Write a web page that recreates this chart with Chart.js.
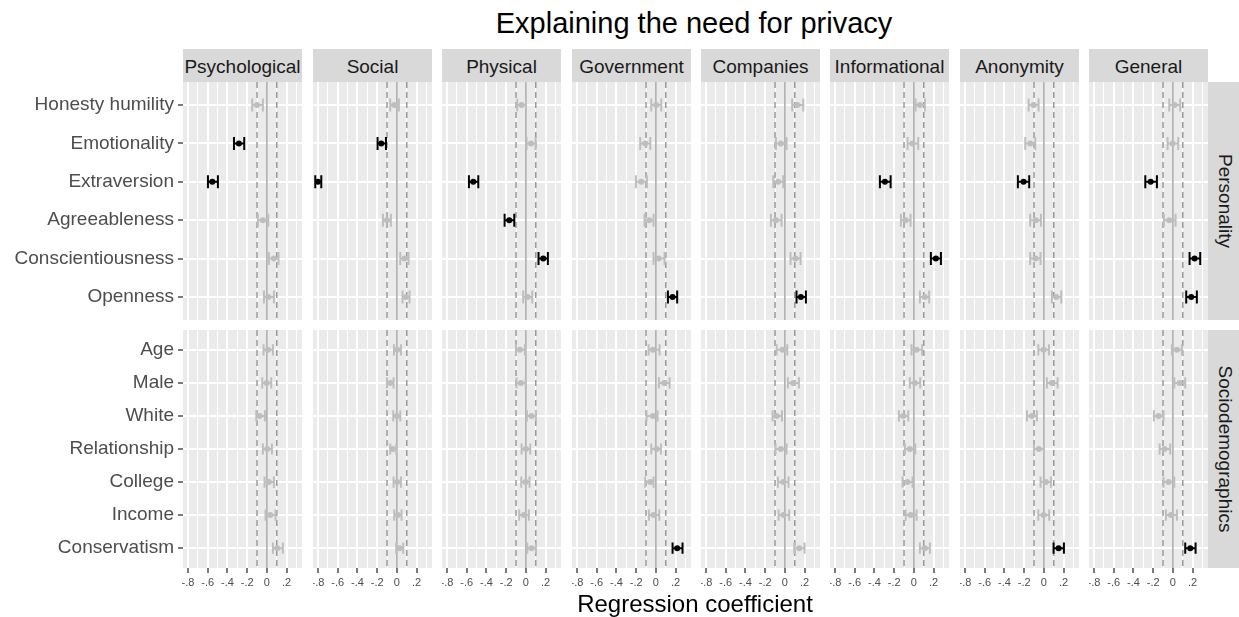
<!DOCTYPE html>
<html>
<head>
<meta charset="utf-8">
<script src="https://cdn.jsdelivr.net/npm/chart.js@4.4.0/dist/chart.umd.min.js"></script>
<style>
body{margin:0;background:#fff;font-family:"Liberation Sans",Arial,sans-serif;}
#wrap{position:relative;width:1239px;height:617px;overflow:hidden;}
canvas{position:absolute;}
.txt{position:absolute;white-space:nowrap;line-height:1;transform:translate(-50%,-50%);}
.strip{position:absolute;background:#d9d9d9;}
</style>
</head>
<body>
<div id="wrap"></div>
<script>
const facets = ['Psychological','Social','Physical','Government','Companies','Informational','Anonymity','General'];
const groups = ['Personality','Sociodemographics'];
const personalityVars = ['Honesty humility','Emotionality','Extraversion','Agreeableness','Conscientiousness','Openness'];
const socioVars = ['Age','Male','White','Relationship','College','Income','Conservatism'];

// one row per facet, one value per variable
const personalityEst = [
  [-0.101,-0.284,-0.554,-0.041, 0.071, 0.014],
  [-0.027,-0.159,-0.801,-0.101, 0.078, 0.091],
  [-0.044, 0.051,-0.534,-0.169, 0.176, 0.017],
  [ 0.003,-0.108,-0.149,-0.068, 0.027, 0.169],
  [ 0.125,-0.041,-0.068,-0.091, 0.108, 0.162],
  [ 0.061,-0.014,-0.294,-0.084, 0.223, 0.111],
  [-0.105,-0.139,-0.206,-0.081,-0.084, 0.125],
  [ 0.017,-0.003,-0.226,-0.037, 0.220, 0.186]
];
const personalityLow = [
  [-0.149,-0.334,-0.598,-0.091, 0.020,-0.030],
  [-0.068,-0.196,-0.828,-0.142, 0.034, 0.057],
  [-0.088, 0.007,-0.578,-0.216, 0.128,-0.027],
  [-0.047,-0.159,-0.203,-0.115,-0.024, 0.122],
  [ 0.074,-0.091,-0.118,-0.142, 0.057, 0.118],
  [ 0.017,-0.064,-0.345,-0.132, 0.172, 0.061],
  [-0.155,-0.189,-0.264,-0.139,-0.139, 0.081],
  [-0.037,-0.054,-0.280,-0.091, 0.169, 0.135]
];
const personalityHigh = [
  [-0.041,-0.230,-0.497, 0.014, 0.118, 0.071],
  [ 0.020,-0.111,-0.767,-0.061, 0.118, 0.128],
  [ 0.000, 0.098,-0.483,-0.118, 0.223, 0.064],
  [ 0.054,-0.057,-0.091,-0.024, 0.088, 0.216],
  [ 0.186, 0.017,-0.017,-0.034, 0.159, 0.213],
  [ 0.111, 0.044,-0.236,-0.034, 0.274, 0.155],
  [-0.054,-0.088,-0.149,-0.030,-0.034, 0.176],
  [ 0.074, 0.054,-0.162, 0.027, 0.277, 0.243]
];
const personalitySig = [
  [0,1,1,0,0,0],
  [0,1,1,0,0,0],
  [0,0,1,1,1,0],
  [0,0,0,0,0,1],
  [0,0,0,0,0,1],
  [0,0,1,0,1,0],
  [0,0,1,0,0,0],
  [0,0,1,0,1,1]
];

const socioEst = [
  [ 0.010,-0.003,-0.074, 0.003, 0.020, 0.034, 0.105],
  [ 0.003,-0.068, 0.000,-0.041, 0.003, 0.010, 0.027],
  [-0.061,-0.051, 0.057, 0.000,-0.003,-0.020, 0.057],
  [-0.030, 0.084,-0.030, 0.007,-0.057,-0.024, 0.216],
  [-0.024, 0.084,-0.084,-0.041,-0.017,-0.014, 0.145],
  [ 0.027, 0.010,-0.108,-0.041,-0.064,-0.034, 0.111],
  [-0.003, 0.081,-0.122,-0.051, 0.020,-0.003, 0.149],
  [ 0.041, 0.068,-0.145,-0.084,-0.044,-0.020, 0.176]
];
const socioLow = [
  [-0.034,-0.047,-0.108,-0.041,-0.024,-0.014, 0.061],
  [-0.030,-0.101,-0.037,-0.068,-0.034,-0.027,-0.007],
  [-0.101,-0.095, 0.010,-0.044,-0.047,-0.068, 0.014],
  [-0.074, 0.030,-0.095,-0.047,-0.108,-0.071, 0.169],
  [-0.084, 0.030,-0.125,-0.095,-0.071,-0.064, 0.095],
  [-0.024,-0.041,-0.152,-0.091,-0.115,-0.084, 0.061],
  [-0.057, 0.030,-0.172,-0.101,-0.034,-0.057, 0.098],
  [-0.010, 0.014,-0.193,-0.135,-0.095,-0.071, 0.125]
];
const socioHigh = [
  [ 0.061, 0.044,-0.020, 0.051, 0.071, 0.088, 0.162],
  [ 0.041,-0.034, 0.034,-0.007, 0.041, 0.047, 0.064],
  [-0.010,-0.003, 0.101, 0.044, 0.037, 0.030, 0.101],
  [ 0.037, 0.139, 0.017, 0.051,-0.024, 0.034, 0.270],
  [ 0.024, 0.142,-0.030, 0.017, 0.037, 0.044, 0.199],
  [ 0.084, 0.064,-0.057, 0.014,-0.014, 0.027, 0.162],
  [ 0.051, 0.139,-0.071, 0.000, 0.071, 0.054, 0.203],
  [ 0.091, 0.125,-0.095,-0.027, 0.014, 0.041, 0.230]
];
const socioSig = [
  [0,0,0,0,0,0,0],
  [0,0,0,0,0,0,0],
  [0,0,0,0,0,0,0],
  [0,0,0,0,0,0,1],
  [0,0,0,0,0,0,0],
  [0,0,0,0,0,0,0],
  [0,0,0,0,0,0,1],
  [0,0,0,0,0,0,1]
];

const xBreaks = [-0.8,-0.6,-0.4,-0.2,0,0.2];
const xBreakLabels = ['-.8','-.6','-.4','-.2','0','.2'];
const xMinorBreaks = [-0.7,-0.5,-0.3,-0.1,0.1,0.3];
const refSolid = [0];
const refDashed = [-0.1,0.1];
const xMin = -0.851, xMax = 0.356;

// layout (px)
const panelX0 = 183.3, panelStep = 129.4, panelW = 119;
const rowTop = [82, 330], rowH = 238;
const stripTop = 49, stripH = 33;
const axisBottom = 40;

Chart.defaults.font.family = '"Liberation Sans", Arial, sans-serif';

const wrap = document.getElementById('wrap');

function isMajor(v){ return xBreaks.some(b => Math.abs(b - v) < 1e-9); }

const panelDecor = {
  id: 'panelDecor',
  beforeDraw(chart){
    const {ctx, chartArea: a} = chart;
    ctx.save();
    ctx.fillStyle = '#ebebeb';
    ctx.fillRect(a.left, a.top, a.right - a.left, a.bottom - a.top);
    ctx.restore();
  },
  beforeDatasetsDraw(chart){
    const {ctx, chartArea: a, scales: {x, y}} = chart;
    const ds = chart.data.datasets[0];
    ctx.save();
    ctx.beginPath();
    ctx.rect(a.left, a.top, a.right - a.left, a.bottom - a.top);
    ctx.clip();
    // reference lines
    ctx.lineWidth = 1.5;
    ctx.strokeStyle = '#a6a6a6';
    refSolid.forEach(v => {
      const px = x.getPixelForValue(v);
      ctx.beginPath(); ctx.moveTo(px, a.top); ctx.lineTo(px, a.bottom); ctx.stroke();
    });
    ctx.strokeStyle = '#9a9a9a';
    ctx.setLineDash([6, 4]);
    refDashed.forEach(v => {
      const px = x.getPixelForValue(v);
      ctx.beginPath(); ctx.moveTo(px, a.top); ctx.lineTo(px, a.bottom); ctx.stroke();
    });
    ctx.setLineDash([]);
    // error bars
    const cap = 0.17 * Math.abs(y.getPixelForValue(2) - y.getPixelForValue(1));
    ctx.lineWidth = 2;
    ds.low.forEach((lo, i) => {
      const py = y.getPixelForValue(i + 1);
      const x1 = x.getPixelForValue(lo), x2 = x.getPixelForValue(ds.high[i]);
      ctx.strokeStyle = ds.sig[i] ? '#000' : '#bebebe';
      ctx.beginPath();
      ctx.moveTo(x1, py); ctx.lineTo(x2, py);
      ctx.moveTo(x1, py - cap); ctx.lineTo(x1, py + cap);
      ctx.moveTo(x2, py - cap); ctx.lineTo(x2, py + cap);
      ctx.stroke();
    });
    ctx.restore();
  }
};

function makePanel(col, row){
  const vars = row === 0 ? personalityVars : socioVars;
  const est = (row === 0 ? personalityEst : socioEst)[col];
  const low = (row === 0 ? personalityLow : socioLow)[col];
  const high = (row === 0 ? personalityHigh : socioHigh)[col];
  const sig = (row === 0 ? personalitySig : socioSig)[col];

  const left = Math.round(panelX0 + col * panelStep);
  const padL = col === 0 ? left : 0;
  const padB = row === 1 ? axisBottom : 0;

  const cv = document.createElement('canvas');
  cv.width = panelW + padL;
  cv.height = rowH + padB;
  cv.style.left = (left - padL) + 'px';
  cv.style.top = rowTop[row] + 'px';
  wrap.appendChild(cv);

  new Chart(cv, {
    type: 'scatter',
    data: {datasets: [{
      data: est.map((v, i) => ({x: v, y: i + 1})),
      low: low, high: high, sig: sig,
      pointRadius: 3,
      pointBorderWidth: 0,
      pointBackgroundColor: sig.map(s => s ? '#000' : '#bebebe')
    }]},
    options: {
      responsive: false,
      animation: false,
      events: [],
      devicePixelRatio: 1,
      layout: {padding: 0, autoPadding: false},
      plugins: {legend: {display: false}, tooltip: {enabled: false}},
      scales: {
        x: {
          type: 'linear', min: xMin, max: xMax, position: 'bottom',
          afterBuildTicks: s => { s.ticks = [...xBreaks, ...xMinorBreaks].sort((a, b) => a - b).map(v => ({value: v})); },
          afterFit: s => { s.height = padB; s.paddingLeft = 0; s.paddingRight = 0; },
          border: {display: false},
          grid: {
            color: '#fff',
            lineWidth: c => (c.tick && isMajor(c.tick.value)) ? 2 : 1,
            drawTicks: row === 1,
            tickLength: 5,
            tickWidth: 1.3,
            tickColor: c => (c.tick && isMajor(c.tick.value)) ? '#333' : 'rgba(0,0,0,0)'
          },
          ticks: {
            display: row === 1, autoSkip: false, maxRotation: 0, padding: 3,
            color: '#4d4d4d', font: {size: 11},
            callback: v => { const k = xBreaks.findIndex(b => Math.abs(b - v) < 1e-9); return k < 0 ? '' : xBreakLabels[k]; }
          }
        },
        y: {
          type: 'linear', min: 0.4, max: vars.length + 0.6, reverse: true, position: 'left',
          afterBuildTicks: s => { s.ticks = vars.map((_, i) => ({value: i + 1})); },
          afterFit: s => { s.width = padL; s.paddingTop = 0; s.paddingBottom = 0; },
          border: {display: false},
          grid: {color: '#fff', lineWidth: 2, drawTicks: col === 0, tickLength: 5, tickWidth: 1.3, tickColor: '#333'},
          ticks: {
            display: col === 0, padding: 4, color: '#4d4d4d', font: {size: 19},
            callback: (v, i) => vars[i]
          }
        }
      }
    },
    plugins: [panelDecor]
  });
}

function addText(txt, x, y, size, color, rot){
  const d = document.createElement('div');
  d.className = 'txt';
  d.textContent = txt;
  d.style.left = x + 'px';
  d.style.top = y + 'px';
  d.style.fontSize = size + 'px';
  d.style.color = color;
  if (rot) d.style.transform = 'translate(-50%,-50%) rotate(' + rot + 'deg)';
  wrap.appendChild(d);
}

function addStrip(x, y, w, h){
  const d = document.createElement('div');
  d.className = 'strip';
  d.style.left = x + 'px'; d.style.top = y + 'px';
  d.style.width = w + 'px'; d.style.height = h + 'px';
  wrap.appendChild(d);
}

facets.forEach((f, c) => {
  const left = Math.round(panelX0 + c * panelStep);
  addStrip(left, stripTop, panelW, stripH);
  addText(f, left + panelW / 2, stripTop + stripH / 2, 19, '#1a1a1a');
  makePanel(c, 0);
  makePanel(c, 1);
});

const stripX = Math.round(panelX0 + 7 * panelStep) + panelW;
groups.forEach((g, r) => {
  addStrip(stripX, rowTop[r], 34, rowH);
  addText(g, stripX + 16.5, rowTop[r] + rowH / 2, 19, '#1a1a1a', 90);
});

addText('Explaining the need for privacy', 694, 23, 29, '#000');
addText('Regression coefficient', 695, 604, 24, '#000');
</script>
</body>
</html>
